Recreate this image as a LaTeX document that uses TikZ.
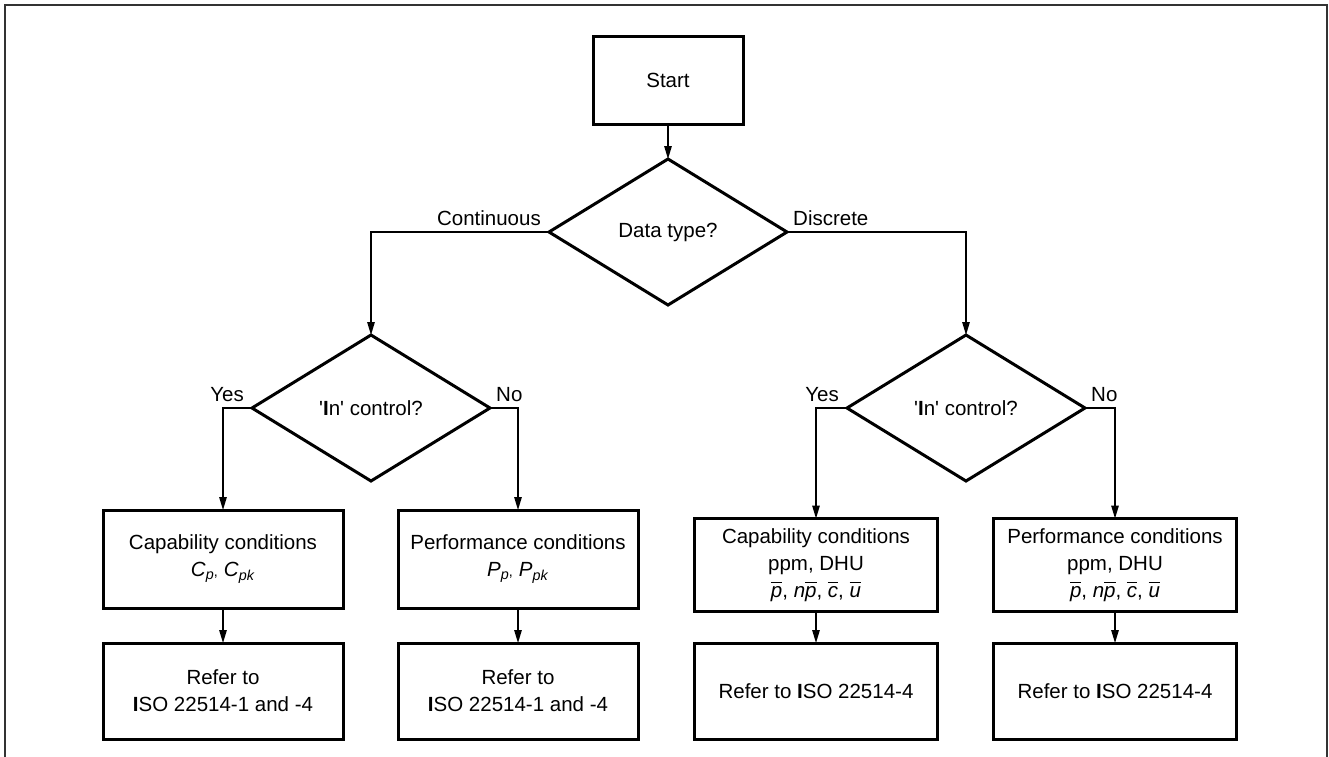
\documentclass[tikz,border=0pt]{standalone}
\usepackage{fontspec}
\setmainfont{Liberation Sans}
\usetikzlibrary{arrows.meta,shapes.geometric}
\newcommand{\ovl}[1]{$\overline{\vphantom{T}\mbox{\itshape #1}}$}
\newcommand{\BI}{\textbf{I}}
\newcommand{\sq}{\textquotesingle}
\begin{document}
\begin{tikzpicture}[x=1pt,y=-1pt,
  every node/.style={font=\fontsize{20.5}{27}\selectfont},
  box/.style={draw,line width=3pt,minimum width=240pt,align=center,inner sep=0pt,outer sep=0pt},
  dec/.style={draw,diamond,line width=3pt,minimum width=238pt,minimum height=146pt,inner sep=0pt,outer sep=0pt,aspect=1.63},
  conn/.style={line width=1.3pt,-{Triangle[length=13pt,width=7.5pt]}},
  lbl/.style={inner sep=0pt}]
\useasboundingbox (0,0) rectangle (1329,756);
\draw[line width=1.5pt,black!80] (5,760) -- (5,5) -- (1327,5) -- (1327,760);
\node[box,minimum width=150pt,minimum height=88pt] (start) at (668,80) {Start};
\node[dec] (dt) at (668,232) {Data type?};
\node[dec] (ic1) at (371,408) {\sq\BI n\sq{} control?};
\node[dec] (ic2) at (966,408) {\sq\BI n\sq{} control?};
\node[box,minimum height=98pt] (cap1) at (223,559) {Capability conditions\\\textit{C}\textsubscript{\textit{p}\raisebox{0.45ex}{,}} \textit{C}\textsubscript{\textit{pk}}};
\node[box,minimum height=98pt] (perf1) at (518,559) {Performance conditions\\\textit{P}\textsubscript{\textit{p}\raisebox{0.45ex}{,}} \textit{P}\textsubscript{\textit{pk}}};
\node[box,minimum width=243pt,minimum height=93pt] (cap2) at (816,565) {Capability conditions\\ppm, DHU\\\ovl{p}, \textit{n}\ovl{p}, \ovl{c}, \ovl{u}};
\node[box,minimum width=243pt,minimum height=93pt] (perf2) at (1115,565) {Performance conditions\\ppm, DHU\\\ovl{p}, \textit{n}\ovl{p}, \ovl{c}, \ovl{u}};
\node[box,minimum height=96pt] (ref1) at (223,691) {Refer to\\\BI SO 22514-1 and -4};
\node[box,minimum height=96pt] (ref2) at (518,691) {Refer to\\\BI SO 22514-1 and -4};
\node[box,minimum width=243pt,minimum height=96pt] (ref3) at (816,691) {Refer to \BI SO 22514-4};
\node[box,minimum width=243pt,minimum height=96pt] (ref4) at (1115,691) {Refer to \BI SO 22514-4};
\draw[conn] (start) -- (dt);
\draw[conn] (dt.west) -| (ic1.north);
\draw[conn] (dt.east) -| (ic2.north);
\draw[conn] (ic1.west) -| (cap1.north);
\draw[conn] (ic1.east) -| (perf1.north);
\draw[conn] (ic2.west) -| (cap2.north);
\draw[conn] (ic2.east) -| (perf2.north);
\draw[conn] (cap1) -- (ref1);
\draw[conn] (perf1) -- (ref2);
\draw[conn] (cap2) -- (ref3);
\draw[conn] (perf2) -- (ref4);
\node[lbl,anchor=base east] (lcont) at ([xshift=-8pt,yshift=7pt]dt.west) {Continuous};
\node[lbl,anchor=base west] (ldisc) at ([xshift=6pt,yshift=7pt]dt.east) {Discrete};
\node[lbl,anchor=base east] (ly1) at ([xshift=-8pt,yshift=7pt]ic1.west) {Yes};
\node[lbl,anchor=base west] (ln1) at ([xshift=6pt,yshift=7pt]ic1.east) {No};
\node[lbl,anchor=base east] (ly2) at ([xshift=-8pt,yshift=7pt]ic2.west) {Yes};
\node[lbl,anchor=base west] (ln2) at ([xshift=6pt,yshift=7pt]ic2.east) {No};
\end{tikzpicture}
\end{document}
